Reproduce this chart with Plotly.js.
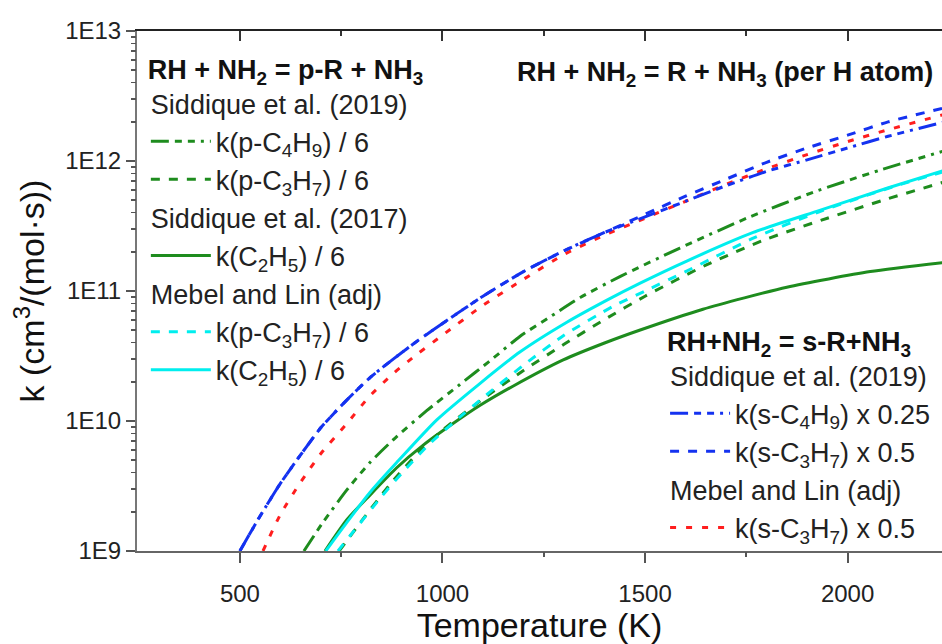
<!DOCTYPE html>
<html>
<head>
<meta charset="utf-8">
<script src="https://cdn.plot.ly/plotly-3.0.1.min.js"></script>
<style>html,body{margin:0;padding:0;background:#fff;}#chart{width:942px;height:644px;}</style>
</head>
<body>
<div id="chart"></div>
<script>
// ---- data (T in K, k in cm3/(mol s)) ----
const T_sC4H9_Sid19 = [500, 550, 600, 650, 700, 760, 820, 880, 940, 1000, 1100, 1200, 1300, 1400, 1500, 1600, 1700, 1800, 1900, 2000, 2100, 2240];
const k_sC4H9_Sid19 = [1.00e9, 1.86e9, 3.31e9, 5.50e9, 8.91e9, 1.41e10, 2.14e10, 3.02e10, 4.17e10, 5.62e10, 9.12e10, 1.41e11, 2.04e11, 2.82e11, 3.72e11, 4.90e11, 6.46e11, 8.32e11, 1.02e12, 1.26e12, 1.55e12, 2.00e12];
const T_sC3H7_Sid19 = [500, 550, 600, 650, 700, 760, 820, 880, 940, 1000, 1100, 1200, 1300, 1400, 1500, 1600, 1700, 1800, 1900, 2000, 2100, 2240];
const k_sC3H7_Sid19 = [1.00e9, 1.86e9, 3.31e9, 5.50e9, 8.91e9, 1.41e10, 2.14e10, 3.02e10, 4.17e10, 5.62e10, 9.12e10, 1.41e11, 2.04e11, 2.82e11, 3.89e11, 5.37e11, 7.24e11, 9.77e11, 1.26e12, 1.58e12, 2.00e12, 2.57e12];
const T_sC3H7_Mebel = [557, 600, 650, 700, 764, 820, 880, 940, 1000, 1100, 1200, 1300, 1400, 1500, 1600, 1700, 1800, 1900, 2000, 2100, 2240];
const k_sC3H7_Mebel = [1.00e9, 1.91e9, 3.39e9, 5.62e9, 9.55e9, 1.55e10, 2.34e10, 3.31e10, 4.57e10, 7.76e10, 1.23e11, 1.91e11, 2.69e11, 3.63e11, 4.90e11, 6.61e11, 8.71e11, 1.12e12, 1.41e12, 1.74e12, 2.29e12];
const T_pC4H9_Sid19 = [658, 705, 764, 821, 887, 961, 1043, 1120, 1191, 1270, 1340, 1438, 1586, 1751, 1915, 2080, 2240];
const k_pC4H9_Sid19 = [1.00e9, 1.66e9, 2.95e9, 4.79e9, 7.59e9, 1.20e10, 1.91e10, 2.95e10, 4.47e10, 6.46e10, 8.91e10, 1.29e11, 2.14e11, 3.63e11, 5.75e11, 8.51e11, 1.20e12];
const T_pC3H7_Sid19 = [745, 800, 870, 950, 1000, 1100, 1200, 1300, 1400, 1500, 1650, 1800, 1950, 2100, 2240];
const k_pC3H7_Sid19 = [1.00e9, 1.70e9, 3.24e9, 6.17e9, 8.51e9, 1.48e10, 2.45e10, 3.89e10, 6.03e10, 9.12e10, 1.58e11, 2.51e11, 3.63e11, 5.13e11, 6.92e11];
const T_C2H5_Sid17 = [710, 764, 821, 887, 951, 1026, 1093, 1175, 1298, 1400, 1488, 1643, 1850, 2056, 2240];
const k_C2H5_Sid17 = [1.00e9, 1.74e9, 2.69e9, 4.37e9, 6.46e9, 9.55e9, 1.32e10, 1.86e10, 2.95e10, 3.98e10, 5.01e10, 7.24e10, 1.07e11, 1.41e11, 1.66e11];
const T_pC3H7_Mebel = [742, 780, 850, 900, 970, 1050, 1100, 1200, 1300, 1420, 1500, 1600, 1770, 1930, 2110, 2240];
const k_pC3H7_Mebel = [1.00e9, 1.41e9, 2.63e9, 3.98e9, 6.76e9, 1.12e10, 1.51e10, 2.69e10, 4.57e10, 7.59e10, 1.00e11, 1.41e11, 2.57e11, 4.07e11, 6.31e11, 8.32e11];
const T_C2H5_Mebel = [712, 764, 821, 887, 986, 1093, 1191, 1307, 1406, 1488, 1603, 1767, 1931, 2097, 2240];
const k_C2H5_Mebel = [1.00e9, 1.66e9, 2.82e9, 4.79e9, 1.02e10, 1.95e10, 3.39e10, 5.75e10, 8.51e10, 1.15e11, 1.70e11, 2.82e11, 4.17e11, 6.17e11, 8.51e11];

const yTickVals = [1e9, 1e10, 1e11, 1e12, 1e13];
const yTickText = ['1E9', '1E10', '1E11', '1E12', '1E13'];
const xTickVals = [500, 1000, 1500, 2000];
const xMinorVals = [750, 1250, 1750];
const yMinorVals = [];
[1e9, 1e10, 1e11, 1e12].forEach(d => { for (let m = 2; m <= 9; m++) yMinorVals.push(m * d); });

// ---- styles ----
const GREEN = '#1e8c1e', BLUE = '#1432f0', RED = '#ff1e1e', CYAN = '#00eeee';
const DASHDOT = '18px,6px,7px,6px,7px,6px,3px,6px';
const DASH = '9px,9px';
const FONT = 'Liberation Sans, Arial, sans-serif';
const LF = 27;
const W = 3;

function tr(x, y, name, color, dash, legend, group, gtitle) {
  return {
    x: x, y: y, type: 'scatter', mode: 'lines', name: name,
    line: {color: color, width: W, dash: dash, shape: 'spline', smoothing: 0.6},
    legend: legend, legendgroup: group,
    legendgrouptitle: {text: gtitle, font: {size: LF, color: '#222', family: FONT}}
  };
}
// invisible helper traces that only make the extra tick axes render
function axisCarrier(xa, ya) {
  return {x: [1000], y: [1e10], xaxis: xa, yaxis: ya, type: 'scatter', mode: 'markers',
          marker: {opacity: 0, size: 1}, showlegend: false, hoverinfo: 'skip'};
}

const traces = [
  tr(T_pC4H9_Sid19, k_pC4H9_Sid19, 'k(p-C<sub>4</sub>H<sub>9</sub>) / 6', GREEN, DASHDOT, 'legend', 'a', 'Siddique et al. (2019)'),
  tr(T_pC3H7_Sid19, k_pC3H7_Sid19, 'k(p-C<sub>3</sub>H<sub>7</sub>) / 6', GREEN, DASH, 'legend', 'a', 'Siddique et al. (2019)'),
  tr(T_C2H5_Sid17, k_C2H5_Sid17, 'k(C<sub>2</sub>H<sub>5</sub>) / 6', GREEN, 'solid', 'legend', 'b', 'Siddique et al. (2017)'),
  tr(T_pC3H7_Mebel, k_pC3H7_Mebel, 'k(p-C<sub>3</sub>H<sub>7</sub>) / 6', CYAN, DASH, 'legend', 'c', 'Mebel and Lin (adj)'),
  tr(T_C2H5_Mebel, k_C2H5_Mebel, 'k(C<sub>2</sub>H<sub>5</sub>) / 6', CYAN, 'solid', 'legend', 'c', 'Mebel and Lin (adj)'),
  tr(T_sC3H7_Mebel, k_sC3H7_Mebel, 'k(s-C<sub>3</sub>H<sub>7</sub>) x 0.5', RED, '6px,10px', 'legend2', 'f', 'Mebel and Lin (adj)'),
  tr(T_sC3H7_Sid19, k_sC3H7_Sid19, 'k(s-C<sub>3</sub>H<sub>7</sub>) x 0.5', BLUE, DASH, 'legend2', 'e', 'Siddique et al. (2019)'),
  tr(T_sC4H9_Sid19, k_sC4H9_Sid19, 'k(s-C<sub>4</sub>H<sub>9</sub>) x 0.25', BLUE, DASHDOT, 'legend2', 'e', 'Siddique et al. (2019)'),
  axisCarrier('x2', 'y'), axisCarrier('x3', 'y'), axisCarrier('x4', 'y'), axisCarrier('x', 'y2')
];
traces[5].legendrank = 1003; traces[6].legendrank = 1002; traces[7].legendrank = 1001;

const XR = [246, 2233];
const YR = [9, 13];
const TICKC = '#555';
const TOPC = '#333';
const layout = {
  width: 942, height: 644,
  margin: {l: 137, r: 0, t: 31, b: 93},
  paper_bgcolor: '#fff', plot_bgcolor: '#fff',
  font: {family: FONT, size: 24, color: '#222'},
  showlegend: true,
  xaxis: {
    range: XR, showgrid: false, zeroline: false,
    showline: true, linecolor: '#666', linewidth: 2,
    ticks: 'outside', ticklen: 10, tickwidth: 2, tickcolor: TICKC,
    tickmode: 'array', tickvals: xTickVals, ticklabelstandoff: 10,
    tickfont: {size: 24, color: '#222'},
    title: {text: 'Temperature (K)', font: {size: 34, color: '#111'}, standoff: 8}
  },
  xaxis3: {  // bottom minor ticks
    range: XR, overlaying: 'x', side: 'bottom', anchor: 'y', showgrid: false, zeroline: false,
    showline: false, ticks: 'outside', ticklen: 5, tickwidth: 2, tickcolor: TICKC,
    tickmode: 'array', tickvals: xMinorVals, showticklabels: false
  },
  xaxis2: {  // top axis, major ticks pointing in
    range: XR, overlaying: 'x', side: 'top', anchor: 'y', showgrid: false, zeroline: false,
    showline: true, linecolor: '#222', linewidth: 2.5,
    ticks: 'inside', ticklen: 10, tickwidth: 2, tickcolor: TOPC,
    tickmode: 'array', tickvals: xTickVals, showticklabels: false
  },
  xaxis4: {  // top minor ticks
    range: XR, overlaying: 'x', side: 'top', anchor: 'y', showgrid: false, zeroline: false,
    showline: false, ticks: 'inside', ticklen: 5, tickwidth: 2, tickcolor: TOPC,
    tickmode: 'array', tickvals: xMinorVals, showticklabels: false
  },
  yaxis: {
    type: 'log', range: YR, showgrid: false, zeroline: false,
    showline: true, linecolor: '#777', linewidth: 2,
    ticks: 'outside', ticklen: 9, tickwidth: 2, tickcolor: TICKC,
    tickmode: 'array', tickvals: yTickVals, ticktext: yTickText,
    tickfont: {size: 24, color: '#222'},
    title: {text: 'k (cm<sup>3</sup>/(mol·s))', font: {size: 34, color: '#111'}, standoff: 10}
  },
  yaxis2: {  // left minor ticks
    type: 'log', range: YR, overlaying: 'y', side: 'left', anchor: 'x', showgrid: false, zeroline: false,
    showline: false, ticks: 'outside', ticklen: 5, tickwidth: 1.5, tickcolor: TICKC,
    tickmode: 'array', tickvals: yMinorVals, showticklabels: false
  },
  legend: {
    x: 0.011, y: 0.975, xanchor: 'left', yanchor: 'top',
    bgcolor: 'rgba(0,0,0,0)', borderwidth: 0,
    traceorder: 'grouped', tracegroupgap: 0, itemwidth: 60,
    font: {family: FONT, size: LF, color: '#222'},
    title: {text: '<b>RH + NH<sub>2</sub> = p-R + NH<sub>3</sub></b>', font: {family: FONT, size: LF, color: '#111'}}
  },
  legend2: {
    x: 0.656, y: 0.452, xanchor: 'left', yanchor: 'top',
    bgcolor: 'rgba(0,0,0,0)', borderwidth: 0,
    traceorder: 'grouped', tracegroupgap: 0, itemwidth: 60,
    font: {family: FONT, size: LF, color: '#222'},
    title: {text: '<b>RH+NH<sub>2</sub> = s-R+NH<sub>3</sub></b>', font: {family: FONT, size: LF, color: '#111'}}
  },
  annotations: [{
    xref: 'paper', yref: 'paper', x: 0.991, y: 0.918, xanchor: 'right', yanchor: 'middle',
    text: '<b>RH + NH<sub>2</sub> = R + NH<sub>3</sub> (per H atom)</b>', showarrow: false,
    font: {family: FONT, size: LF, color: '#111'}
  }]
};

Plotly.newPlot('chart', traces, layout, {displayModeBar: false, staticPlot: true});
</script>
</body>
</html>
